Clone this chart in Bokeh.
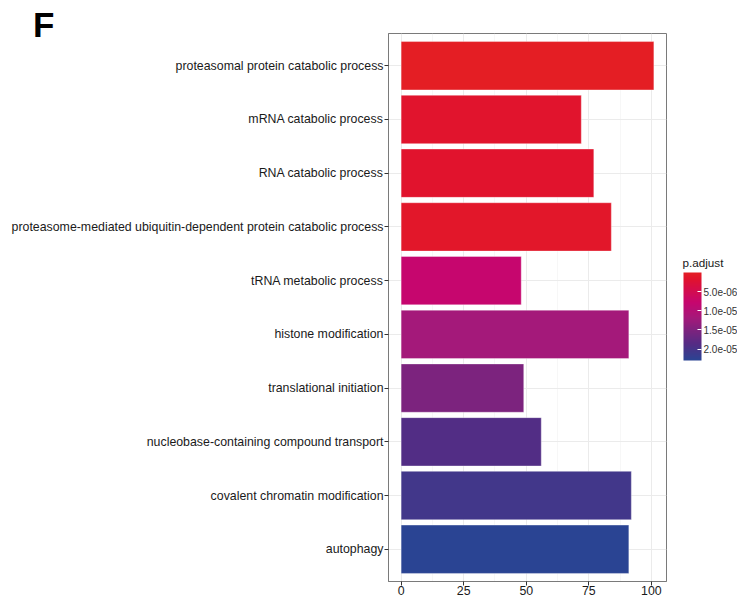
from bokeh.plotting import figure
from bokeh.models import (FactorRange, LinearColorMapper, ColorBar, FixedTicker,
                          CustomJSTickFormatter, ColumnDataSource, Range1d, Div, Label,
                          AllLabels)
from bokeh.layouts import row, column
from bokeh.core.validation import silence
from bokeh.core.validation.warnings import MISSING_RENDERERS
from bokeh.embed import file_html
from bokeh.resources import INLINE

silence(MISSING_RENDERERS, True)

terms = [
    "proteasomal protein catabolic process",
    "mRNA catabolic process",
    "RNA catabolic process",
    "proteasome-mediated ubiquitin-dependent protein catabolic process",
    "tRNA metabolic process",
    "histone modification",
    "translational initiation",
    "nucleobase-containing compound transport",
    "covalent chromatin modification",
    "autophagy",
]
counts = [101, 72, 77, 84, 48, 91, 49, 56, 92, 91]
p_adjust = [1e-8, 1.6e-6, 1.7e-6, 1.1e-6, 7.8e-6, 1.2e-5, 1.52e-5, 1.89e-5, 2.05e-5, 2.3e-5]
legend_ticks = [5e-6, 1e-5, 1.5e-5, 2e-5]
x_ticks = [0, 25, 50, 75, 100]
x_minor = [12.5, 37.5, 62.5, 87.5]
panel_letter = "F"
legend_title = "p.adjust"

# palette anchors (style), red -> magenta -> purple -> blue
anchors = [(0.0, "#E41E24"), (0.07, "#E1132D"), (0.34, "#C6066F"), (0.52, "#A4197A"),
           (0.66, "#7D237E"), (0.82, "#532C85"), (0.89, "#43368A"), (1.0, "#2A4493")]


def hex2rgb(h):
    return tuple(int(h[i:i + 2], 16) for i in (1, 3, 5))


palette = []
N = 256
for k in range(N):
    f = k / (N - 1)
    for (f0, c0), (f1, c1) in zip(anchors[:-1], anchors[1:]):
        if f0 <= f <= f1:
            t = (f - f0) / (f1 - f0) if f1 > f0 else 0
            a, b = hex2rgb(c0), hex2rgb(c1)
            rgb = [round(a[i] + (b[i] - a[i]) * t) for i in range(3)]
            palette.append("#%02X%02X%02X" % tuple(rgb))
            break

pmin, pmax = min(p_adjust), max(p_adjust)
mapper = LinearColorMapper(palette=palette, low=pmin, high=pmax)

src = ColumnDataSource(dict(term=terms, count=counts, padj=p_adjust))

FONT = "Liberation Sans"
BORDER = "#7A7A7A"
p = figure(width=668, height=598, output_backend="svg", toolbar_location=None,
           y_range=FactorRange(factors=list(reversed(terms)), range_padding=0.1,
                               range_padding_units="absolute"),
           x_range=Range1d(-0.05 * max(counts), 1.05 * max(counts)))
p.min_border_left = 388
p.min_border_top = 33
p.min_border_bottom = 17
p.min_border_right = 2
p.outline_line_color = BORDER
p.outline_line_width = 1
p.background_fill_color = "white"
p.border_fill_color = None

p.hbar(y="term", right="count", left=0, height=0.9, source=src,
       fill_color={"field": "padj", "transform": mapper},
       line_color="white", line_alpha=0.35, line_width=1)

p.xaxis.ticker = FixedTicker(ticks=x_ticks, minor_ticks=x_minor)
for ax in (p.xaxis[0], p.yaxis[0]):
    ax.axis_line_color = BORDER
    ax.major_tick_line_color = "#333333"
    ax.major_tick_out = 4
    ax.major_tick_in = 0
    ax.minor_tick_line_color = None
    ax.major_label_text_font = FONT
    ax.major_label_text_font_size = "12.35px"
    ax.major_label_text_color = "#1A1A1A"
p.yaxis.major_label_standoff = 1
p.xaxis.major_label_standoff = 0

p.xgrid.grid_line_color = "#EBEBEB"
p.xgrid.grid_line_width = 1
p.xgrid.minor_grid_line_color = "#F2F2F2"
p.xgrid.minor_grid_line_width = 0.6
p.ygrid.grid_line_color = "#EBEBEB"
p.ygrid.grid_line_width = 1

# legend: reversed colour bar (low p.adjust at top), drawn on negated values
leg_mapper = LinearColorMapper(palette=palette[::-1], low=-pmax, high=-pmin)
fmt = CustomJSTickFormatter(code="""
var s = (-tick).toExponential(1);
return s.replace(/e([+-])(\\d)$/, 'e$10$2');
""")
lg = figure(width=69, height=598, output_backend="svg", toolbar_location=None,
            x_range=Range1d(0, 1), y_range=Range1d(0, 1),
            x_axis_type=None, y_axis_type=None, min_border=0)
lg.outline_line_color = None
lg.background_fill_color = None
lg.border_fill_color = None
cbar = ColorBar(color_mapper=leg_mapper, ticker=FixedTicker(ticks=[-t for t in legend_ticks]),
                formatter=fmt, width=18, height=88, title=None,
                major_label_policy=AllLabels(),
                major_label_text_font=FONT, major_label_text_font_size="10px",
                major_label_text_color="#333333",
                major_tick_line_color="white", major_tick_in=4, major_tick_out=0,
                label_standoff=2, padding=0, margin=0,
                bar_line_color=None, border_line_color=None,
                background_fill_color=None, location=(15, 221))
lg.add_layout(cbar, "center")
lg.add_layout(Label(x=14, y=319, x_units="screen", y_units="screen", text=legend_title,
                    text_font=FONT, text_font_size="11.7px", text_color="#1A1A1A",
                    text_baseline="alphabetic"))

letter = Div(text=panel_letter, width=40, height=35, margin=(7, 0, -42, 33),
             styles={"font-family": FONT, "font-size": "35px", "font-weight": "bold",
                     "line-height": "35px", "color": "black"})

layout = column(letter, row(p, lg, spacing=0), spacing=0)

open("out.html", "w").write(file_html(layout, INLINE))
